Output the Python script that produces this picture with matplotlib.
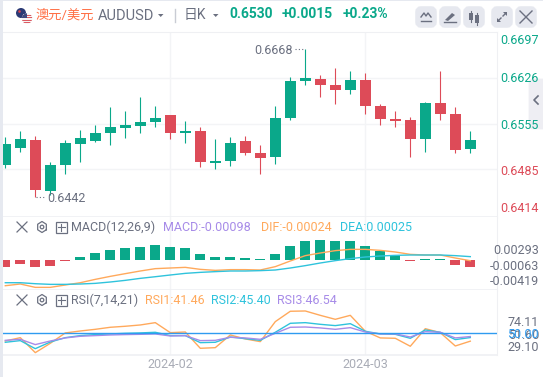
import numpy as np
import matplotlib
matplotlib.use('Agg')
import matplotlib.pyplot as plt
from matplotlib.patches import Circle, Rectangle, FancyBboxPatch, Polygon

plt.rcParams['font.family'] = ['Roboto', 'Noto Sans CJK SC', 'DejaVu Sans']

W = 543
H = 377

# candles
opens = [0.64918, 0.65179, 0.65302, 0.64518, 0.64918, 0.65241, 0.65287, 0.65410, 0.65487, 0.65517, 0.65579,
         0.65686, 0.65410, 0.65441, 0.64949, 0.64979, 0.65287, 0.65102, 0.65041, 0.65640, 0.66209, 0.66240,
         0.66147, 0.66071, 0.66224, 0.65825, 0.65625, 0.65610, 0.65318, 0.65871, 0.65702, 0.65164]
highs = [0.65348, 0.65441, 0.65364, 0.64964, 0.65302, 0.65456, 0.65533, 0.65809, 0.65748, 0.65963, 0.65825,
         0.65686, 0.65594, 0.65502, 0.65318, 0.65348, 0.65364, 0.65225, 0.65825, 0.66271, 0.66701, 0.66301,
         0.66409, 0.66363, 0.66332, 0.65856, 0.65748, 0.65656, 0.65886, 0.66363, 0.65809, 0.65441]
lows = [0.64872, 0.65118, 0.64426, 0.64457, 0.64780, 0.64964, 0.65271, 0.65225, 0.65333, 0.65410, 0.65502,
        0.65318, 0.65256, 0.64887, 0.64857, 0.64903, 0.65072, 0.64780, 0.64933, 0.65610, 0.66147, 0.65963,
        0.65856, 0.66009, 0.65702, 0.65533, 0.65502, 0.65041, 0.65118, 0.65610, 0.65102, 0.65102]
closes = [0.65241, 0.65318, 0.64534, 0.64918, 0.65256, 0.65333, 0.65410, 0.65502, 0.65533, 0.65579, 0.65640,
          0.65410, 0.65441, 0.64964, 0.64979, 0.65256, 0.65102, 0.65026, 0.65640, 0.66209, 0.66255, 0.66147,
          0.66071, 0.66224, 0.65825, 0.65625, 0.65594, 0.65318, 0.65871, 0.65702, 0.65149, 0.65302]

macd_hist = [-0.00098, -0.00056, -0.00098, -0.00084, -0.00014, 0.00042, 0.00098, 0.00140, 0.00168, 0.00182, 0.00210,
             0.00182, 0.00168, 0.00084, 0.00042, 0.00042, 0.00028, 0.00014, 0.00084, 0.00196, 0.00266, 0.00280,
             0.00266, 0.00266, 0.00196, 0.00126, 0.00070, -0.00014, 0.00014, 0.00010, -0.00070, -0.00098]
dif = [-0.00360, -0.00336, -0.00383, -0.00383, -0.00350, -0.00318, -0.00271, -0.00229, -0.00191, -0.00154, -0.00121,
       -0.00112, -0.00103, -0.00131, -0.00145, -0.00135, -0.00135, -0.00140, -0.00093, -0.00014, 0.00061, 0.00098,
       0.00131, 0.00149, 0.00149, 0.00135, 0.00112, 0.00079, 0.00070, 0.00070, 0.00028, -0.00010]
dea = [-0.00318, -0.00318, -0.00332, -0.00341, -0.00341, -0.00336, -0.00327, -0.00308, -0.00285, -0.00257, -0.00234,
       -0.00210, -0.00187, -0.00173, -0.00163, -0.00154, -0.00154, -0.00149, -0.00140, -0.00112, -0.00079, -0.00042,
       -0.00009, 0.00019, 0.00042, 0.00056, 0.00065, 0.00070, 0.00070, 0.00070, 0.00061, 0.00047]

rsi1 = [41.7, 45.3, 29.1, 39.2, 50.4, 52.5, 54.3, 56.5, 57.6, 59.0, 61.5, 50.7, 51.4, 33.8, 34.5, 48.2,
        43.9, 41.0, 62.6, 73.8, 74.1, 69.4, 65.1, 69.4, 52.2, 45.0, 44.6, 36.0, 55.0, 50.7, 36.3, 41.5]
rsi2 = [40.3, 42.1, 33.4, 40.6, 45.3, 47.5, 48.6, 49.3, 50.0, 50.4, 51.1, 47.5, 47.5, 39.9, 40.3, 46.0,
        44.2, 42.4, 51.1, 60.8, 61.5, 59.7, 58.3, 60.4, 52.2, 49.3, 48.9, 44.6, 53.6, 51.1, 43.2, 45.4]
rsi3 = [42.4, 43.5, 37.8, 41.7, 45.0, 46.8, 47.5, 48.2, 48.6, 48.9, 49.3, 47.1, 47.5, 42.1, 42.4, 45.7,
        45.0, 43.5, 50.0, 56.5, 56.8, 55.8, 54.3, 56.1, 51.4, 49.3, 49.3, 46.0, 51.8, 51.1, 45.0, 46.5]

price_ticks = [0.6697, 0.6626, 0.6555, 0.6485, 0.6414]
macd_ticks = [0.00293, -0.00063, -0.00419]
macd_tick_labels = ['0.00293', '-0.00063', '-0.00419']
rsi_ticks = [74.11, 51.60, 29.10]
month_pos = [11, 24]
month_labels = ['2024-02', '2024-03']

green = '#0aa88a'
red = '#dd4b58'
orange = '#ffa95c'
cyan = '#2fc3dc'
purple = '#a78be8'
blue = '#2f9bf0'
grey = '#6b7080'
grid = '#f3f4f6'

x = np.arange(len(opens))
xlim = ((3 - 5.3) / 15, (497.5 - 5.3) / 15)


def make_ax(top, bottom):
    a = fig.add_axes([3 / W, 1 - bottom / H, 494.5 / W, (bottom - top) / H])
    a.set_xlim(xlim)
    a.set_xticks([])
    a.set_yticks([])
    for s in ['left', 'top']:
        a.spines[s].set_visible(False)
    a.spines['right'].set_color('#eff0f3')
    a.spines['bottom'].set_color('#eff0f3')
    a.spines['right'].set_linewidth(0.8)
    a.spines['bottom'].set_linewidth(1.2)
    for m in month_pos:
        a.axvline(m, color=grid, lw=1.0, zorder=0)
    return a


def right_label(a, value, text, color, shift=0):
    # shift in pixels, the chart pushes the end labels inside the panel
    a.annotate(text, xy=(1, value), xycoords=a.get_yaxis_transform(), xytext=(41.5 * 0.72, -(shift + 1) * 0.72),
               textcoords='offset points', ha='right', va='center', fontsize=9, color=color, annotation_clip=False)


fig = plt.figure(figsize=(W / 100, H / 100), dpi=100, facecolor='white')

# collapse tab on the right, behind the price labels
back = fig.add_axes([0, 0, 1, 1], facecolor='none', zorder=-1)
back.set_xlim(0, W)
back.set_ylim(H, 0)
back.axis('off')
back.add_patch(FancyBboxPatch((530, 80), 16, 48, boxstyle='round,pad=0,rounding_size=3',
                              facecolor='#eeeef3', edgecolor='#eeeef3', lw=2))
back.plot([538, 534, 538], [96, 100, 104], color=grey, lw=1.2)

# main candles
ax = make_ax(31.5, 216.5)
ax.set_ylim(0.6697 - 185 * 0.0001537, 0.6697)
ax.spines['top'].set_visible(True)
ax.spines['top'].set_color('#eff0f3')
for t in price_ticks[1:4]:
    ax.axhline(t, color=grid, lw=1.0, zorder=0)
for i in x:
    col = green if closes[i] >= opens[i] else red
    ax.vlines(i, lows[i], highs[i], color=col, lw=0.8, zorder=2)
    b = min(opens[i], closes[i])
    ax.bar(i, abs(closes[i] - opens[i]), 0.73, bottom=b, color=col, zorder=3)
shifts = [7.5, 0, 1, 1, -8.5]
for t, s in zip(price_ticks, shifts):
    right_label(ax, t, '%.4f' % t, green if t > 0.653 else red, s)
ax.set_xlim(xlim)

# MACD
ax2 = make_ax(216.5, 289.5)
ax2.set_ylim(-29.5 * 0.00014, 43.5 * 0.00014)
hist_col = [green if v >= 0 else red for v in macd_hist]
ax2.bar(x, macd_hist, 0.68, color=hist_col, zorder=2)
ax2.plot(x, dif, color=orange, lw=1.0, zorder=3)
ax2.plot(x, dea, color=cyan, lw=1.0, zorder=3)
for t, l, s in zip(macd_ticks, macd_tick_labels, [10, 1, -9]):
    right_label(ax2, t, l, grey, s)

# RSI
ax3 = make_ax(289.5, 355)
ax3.set_ylim(50 - 21.7 * 1.08, 50 + 43.8 * 1.08)
ax3.plot(x, rsi1, color=orange, lw=1.0, zorder=3)
ax3.plot(x, rsi2, color=cyan, lw=1.0, zorder=3)
ax3.plot(x, rsi3, color=purple, lw=1.0, zorder=3)
ax3.axhline(50, color=blue, lw=1.0, zorder=4)
right_label(ax3, rsi_ticks[0], '%.2f' % rsi_ticks[0], grey, 11)
right_label(ax3, rsi_ticks[1], '%.2f' % rsi_ticks[1], grey, 2.5)
right_label(ax3, rsi_ticks[2], '%.2f' % rsi_ticks[2], grey, -6)
right_label(ax3, 50, '50.00', blue, 0.5)
for m, l in zip(month_pos, month_labels):
    ax3.annotate(l, xy=(m, 0), xycoords=ax3.get_xaxis_transform(), xytext=(0, -6.5), textcoords='offset points',
                 ha='center', va='center', fontsize=9, color='#a9acb6', annotation_clip=False)

# page chrome in pixel coordinates
top = fig.add_axes([0, 0, 1, 1], facecolor='none')
top.set_xlim(0, W)
top.set_ylim(H, 0)
top.axis('off')
top.add_patch(Rectangle((0, 0), 2.5, H, color='#e6e9f0', lw=0))
top.add_patch(Rectangle((0, 0), W, 1, color='#e6e9f0', lw=0))

# flags
c1 = Circle((21, 13), 5, color='#2b3a75', lw=0)
top.add_patch(c1)
top.add_patch(Circle((19.5, 11.5), 1.3, color='#d8434e', lw=0))
top.add_patch(Circle((24, 15), 0.9, color='white', lw=0))
c2 = Circle((27, 18.5), 5.2, color='#f5f5f5', lw=0)
top.add_patch(c2)
for yy in [14.5, 17, 19.5, 22]:
    r = Rectangle((21.5, yy), 11, 1.2, color='#dc5a62', lw=0)
    top.add_patch(r)
    r.set_clip_path(c2)
r = Rectangle((21.5, 13), 5, 5, color='#3d4a80', lw=0)
top.add_patch(r)
r.set_clip_path(c2)

top.text(36, 15, '澳元/美元', fontsize=9.5, color='#ff6f45', va='center')
top.text(98, 16, 'AUDUSD', fontsize=10.5, color=grey, va='center')
top.add_patch(Polygon([[158, 14], [163.5, 14], [160.7, 17]], color=grey, lw=0))
top.plot([174.5, 174.5], [9, 22], color='#c9ccd4', lw=1)
top.text(184, 14.5, '日K', fontsize=10, color=grey, va='center')
top.add_patch(Polygon([[213, 14], [218.5, 14], [215.7, 17]], color=grey, lw=0))
top.text(229, 14.5, '0.6530', fontsize=10, color=green, va='center', fontweight='bold')
top.text(282, 14.5, '+0.0015', fontsize=10, color=green, va='center', fontweight='bold')
top.text(343, 14.5, '+0.23%', fontsize=10, color=green, va='center', fontweight='bold')

# toolbar buttons
for bx in [416, 440, 464, 492, 516]:
    top.add_patch(FancyBboxPatch((bx + 2, 9), 16, 16, boxstyle='round,pad=0,rounding_size=3', mutation_aspect=1,
                                 facecolor='#e6e8ef', edgecolor='#e6e8ef', lw=4))
top.plot([421, 424, 426, 428, 431], [17, 13, 16, 13, 17], color=grey, lw=1)
top.plot([421, 431], [21, 21], color=grey, lw=1)
top.add_patch(Polygon([[445, 20], [452, 13], [455, 15], [448, 21]], color=grey, lw=0))
top.plot([444, 456], [22, 22], color=grey, lw=1)
top.add_patch(Rectangle((469, 13), 4, 7, color=grey, lw=0))
top.add_patch(Rectangle((475, 15), 4, 8, color=grey, lw=0))
top.plot([471, 471], [11, 22], color=grey, lw=0.8)
top.plot([477, 477], [13, 25], color=grey, lw=0.8)
top.plot([498, 501], [21, 18], color=grey, lw=1)
top.plot([503, 506], [16, 13], color=grey, lw=1)
top.add_patch(Polygon([[497, 22], [497, 18], [501, 22]], color=grey, lw=0))
top.add_patch(Polygon([[507, 12], [507, 16], [503, 12]], color=grey, lw=0))
top.plot([520, 532], [11, 23], color=grey, lw=1)
top.plot([520, 532], [23, 11], color=grey, lw=1)


def panel_head(y):
    top.plot([17, 27], [y - 5, y + 5], color=grey, lw=0.9)
    top.plot([17, 27], [y + 5, y - 5], color=grey, lw=0.9)
    a = np.pi / 6 + np.arange(7) * np.pi / 3
    top.plot(42 + 5 * np.cos(a), y + 5.5 * np.sin(a), color=grey, lw=0.9)
    top.add_patch(Circle((42, y), 1.8, fill=False, edgecolor=grey, lw=0.9))
    top.add_patch(Rectangle((56, y - 5), 10.5, 10.5, fill=False, edgecolor=grey, lw=0.9))
    top.plot([58, 64.5], [y + 0.2, y + 0.2], color=grey, lw=0.8)
    top.plot([61.2, 61.2], [y - 3, y + 3.5], color=grey, lw=0.8)


panel_head(227)
panel_head(300)
top.text(70.5, 227.5, 'MACD(12,26,9)', fontsize=9, color=grey, va='center')
top.text(163.5, 227.5, 'MACD:-0.00098', fontsize=9, color=purple, va='center')
top.text(261, 227.5, 'DIF:-0.00024', fontsize=9, color=orange, va='center')
top.text(340, 227.5, 'DEA:0.00025', fontsize=9, color=cyan, va='center')
top.text(70.5, 300.5, 'RSI(7,14,21)', fontsize=9, color=grey, va='center')
top.text(145, 300.5, 'RSI1:41.46', fontsize=9, color=orange, va='center')
top.text(211, 300.5, 'RSI2:45.40', fontsize=9, color=cyan, va='center')
top.text(277, 300.5, 'RSI3:46.54', fontsize=9, color=purple, va='center')

# high and low labels with dotted leaders
top.plot([295, 305], [48.5, 48.5], color=grey, lw=0.8, ls=(0, (1, 2)))
top.text(293, 51, '0.6668', ha='right', fontsize=9, color=grey, va='center')
top.plot([36, 45], [196.5, 196.5], color=grey, lw=0.8, ls=(0, (1, 2)))
top.text(47, 199, '0.6442', fontsize=9, color=grey, va='center')

plt.savefig('out.png', dpi=100)
